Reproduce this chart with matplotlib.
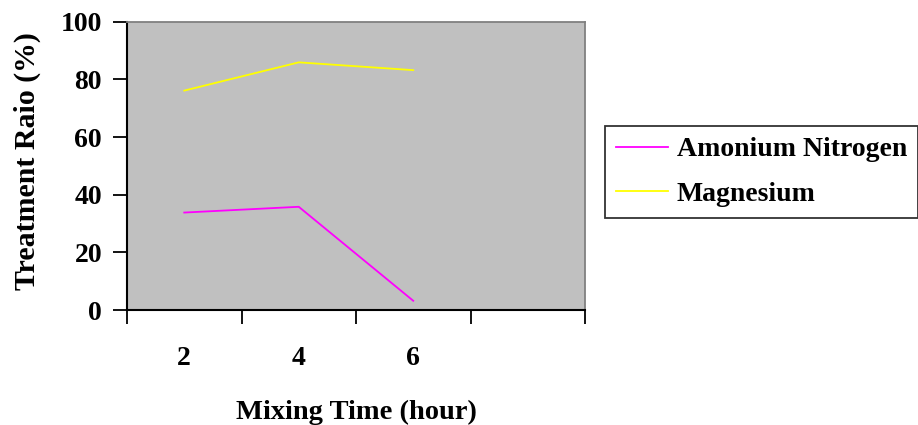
import matplotlib.pyplot as plt

# mixing time categories (4th slot is empty in the original chart)
categories = ['2', '4', '6', '']
amonium = [33.8, 35.8, 3.2]
magnesium = [76.1, 85.9, 83.2]

plt.rcParams['font.family'] = ['Liberation Serif', 'DejaVu Serif']
plt.rcParams['font.weight'] = 'bold'
FS = 20

fig = plt.figure(figsize=(9.18, 4.25), dpi=100)
ax = fig.add_axes([127/918, 1 - 310/425, (585-127)/918, (310-21.7)/425])
ax.set_facecolor('#c0c0c0')

xpos = [i + 0.5 for i in range(len(amonium))]
ax.plot(xpos, amonium, color='#ff00ff', lw=1.3, label='Amonium Nitrogen')
ax.plot(xpos, magnesium, color='#ffff00', lw=1.3, label='Magnesium')

ax.set_xlim(0, len(categories))
ax.set_ylim(0, 100)
ax.set_xticks(range(len(categories) + 1))
ax.set_xticklabels([])
ax.set_xticks([i + 0.5 for i in range(len(categories))], minor=True)
ax.set_xticklabels(categories, minor=True, fontsize=FS, fontweight='bold')
ax.tick_params(axis='x', which='minor', length=0, pad=26)
ax.tick_params(axis='x', which='major', length=10, width=1.3, direction='out')
ax.set_yticks(range(0, 101, 20))
ax.tick_params(axis='y', length=10, width=1.3, labelsize=FS, pad=8)
for lab in ax.get_yticklabels():
    lab.set_fontweight('bold')

for s in ['left', 'bottom']:
    ax.spines[s].set_color('black')
    ax.spines[s].set_linewidth(1.5)
for s in ['top', 'right']:
    ax.spines[s].set_color('#808080')
    ax.spines[s].set_linewidth(1.3)

ax.set_xlabel('Mixing Time (hour)', fontsize=20.5, fontweight='bold')
ax.xaxis.set_label_coords(0.5, -0.31)
ax.set_ylabel('Treatment Raio (%)', fontsize=21.5, fontweight='bold')
ax.yaxis.set_label_coords(-86/458, 0.515)

leg = fig.legend(loc='center left', bbox_to_anchor=(605/918, 1 - 172/425),
                 frameon=True, fancybox=False, edgecolor='black',
                 prop={'size': FS, 'weight': 'bold'}, handlelength=1.85,
                 borderpad=0.4, labelspacing=0.7, handletextpad=0.33,
                 borderaxespad=0)
leg.get_frame().set_linewidth(1.3)

fig.savefig('out.png', dpi=100)
